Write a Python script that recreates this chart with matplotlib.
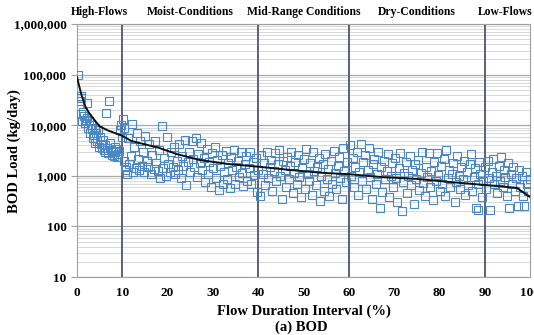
import matplotlib
matplotlib.use('Agg')
import matplotlib.pyplot as plt
from matplotlib.ticker import LogLocator, FuncFormatter, NullFormatter

# Load duration curve (kg/day)
curve_x = [0, 1, 2, 3, 5, 7, 10, 12, 15, 18, 22, 27, 33, 40, 47, 54, 60, 67, 75, 82, 90, 97, 100]
curve_y = [90000, 40000, 22000, 16000, 9500, 7800, 6200, 4900, 4200, 3600, 2700, 2070, 1730,
           1520, 1310, 1150, 1080, 950, 870, 760, 660, 580, 380]

# Observed loads (flow percentile, kg/day)
obs = [
    (0.3, 100000), (0.6, 30000), (0.8, 38000), (0.9, 35000), (1.0, 17000), (1.2, 12000), (1.4, 18000),
    (1.6, 15000), (1.8, 11000), (2.0, 13000), (2.2, 27000), (2.3, 14000), (2.5, 9000), (2.7, 12000),
    (2.9, 7000), (3.1, 10000), (3.3, 8500), (3.5, 5500), (3.7, 6500), (3.9, 9000), (4.1, 4500),
    (4.3, 7000), (4.5, 5000), (4.7, 8000), (4.9, 3800), (5.1, 6000), (5.3, 4200), (5.5, 3500),
    (5.7, 5200), (5.9, 3200), (6.1, 4000), (6.3, 3000), (6.5, 17500), (6.7, 3500), (6.9, 2800),
    (7.1, 30000), (7.3, 4500), (7.5, 3300), (7.7, 2600), (7.9, 3000), (8.1, 2500), (8.3, 3800),
    (8.5, 2900), (8.7, 3400), (8.9, 2400), (9.1, 2700), (9.3, 3100), (9.5, 8000), (9.7, 10000),
    (9.9, 6000), (10.1, 13500), (10.3, 9000), (10.5, 2000), (10.7, 1300), (10.9, 1500),
    (11.0, 1100), (11.3, 5500), (11.6, 1700), (11.9, 2500), (12.2, 10700), (12.4, 1200), (12.7, 3800),
    (13.0, 1400), (13.2, 7000), (13.5, 2200), (13.8, 1300), (14.0, 4800), (14.3, 1600), (14.6, 3000),
    (14.9, 1200), (15.1, 6200), (15.4, 2000), (15.7, 1500), (16.0, 4200), (16.3, 1100), (16.6, 2600),
    (16.9, 1350), (17.2, 5000), (17.5, 1800), (17.8, 1250), (18.1, 3300), (18.4, 900), (18.7, 9800),
    (19.0, 1450), (19.3, 2300), (19.6, 1000), (19.9, 5800), (20.2, 1700), (20.5, 1200), (20.8, 2900),
    (21.1, 1500), (21.4, 3800), (21.7, 1100),
    (22.0, 2000), (22.3, 1300), (22.6, 4200), (22.9, 900), (23.2, 2500), (23.5, 1600), (23.8, 5200),
    (24.1, 660), (24.4, 1900), (24.7, 3000), (25.0, 1200), (25.3, 4800), (25.6, 2200), (25.9, 1500),
    (26.2, 5500), (26.5, 950), (26.8, 2700), (27.1, 1800), (27.4, 4500), (27.7, 1300), (28.0, 2300),
    (28.3, 750), (28.6, 3400), (28.9, 1100), (29.2, 1900), (29.5, 600), (29.8, 2800), (30.1, 1400),
    (30.4, 3700), (30.7, 900), (31.0, 2100), (31.3, 520), (31.6, 1600), (31.9, 2600), (32.2, 700),
    (32.5, 1200), (32.8, 3100), (33.1, 850), (33.4, 1800), (33.7, 580), (34.0, 2400), (34.3, 1300),
    (34.6, 3300), (34.9, 680), (35.2, 1500), (35.5, 2000), (35.8, 950), (36.1, 2900), (36.4, 1150),
    (36.7, 620), (37.0, 1700), (37.3, 2500), (37.6, 800), (37.9, 1400), (38.2, 3000), (38.5, 700),
    (38.8, 1900), (39.1, 1050), (39.4, 2300), (39.7, 480), (40.0, 1300),
    (40.4, 400), (40.7, 2600), (41.0, 1100), (41.3, 1800), (41.6, 650), (41.9, 3000), (42.2, 900),
    (42.5, 1500), (42.8, 2100), (43.1, 500), (43.4, 1250), (43.7, 2800), (44.0, 780), (44.3, 1700),
    (44.6, 3300), (44.9, 1000), (45.2, 350), (45.5, 2000), (45.8, 1300), (46.1, 600), (46.4, 2400),
    (46.7, 850), (47.0, 1600), (47.3, 3000), (47.6, 450), (47.9, 1150), (48.2, 1900), (48.5, 700),
    (48.8, 2600), (49.1, 950), (49.4, 380), (49.7, 1400), (50.0, 2200), (50.3, 550), (50.6, 3400),
    (50.9, 1100), (51.2, 800), (51.5, 1800), (51.8, 420), (52.1, 2900), (52.4, 1250), (52.7, 650),
    (53.0, 1500), (53.3, 2300), (53.6, 320), (53.9, 1000), (54.2, 1700), (54.5, 500), (54.8, 2700),
    (55.1, 850), (55.4, 1350), (55.7, 400), (56.0, 2000), (56.3, 700), (56.6, 3100), (56.9, 1150),
    (57.2, 550), (57.5, 1600), (57.8, 2400), (58.1, 900), (58.4, 350), (58.7, 3600), (59.0, 1250),
    (59.3, 750), (59.6, 1900),
    (60.2, 4000), (60.5, 1000), (60.8, 2300), (61.1, 600), (61.4, 1500), (61.7, 2900), (62.0, 420),
    (62.3, 1200), (62.6, 4300), (62.9, 800), (63.2, 1900), (63.5, 2600), (63.8, 550), (64.1, 1300),
    (64.4, 3500), (64.7, 950), (65.0, 350), (65.3, 1700), (65.6, 2200), (65.9, 700), (66.2, 1100),
    (66.5, 3000), (66.8, 230), (67.1, 1500), (67.4, 480), (67.7, 2000), (68.0, 850), (68.3, 1250),
    (68.6, 2700), (68.9, 380), (69.2, 1000), (69.5, 1800), (69.8, 600), (70.1, 2300), (70.4, 900),
    (70.7, 300), (71.0, 1400), (71.3, 2800), (71.6, 200), (71.9, 750), (72.2, 1150), (72.5, 1900),
    (72.8, 450), (73.1, 1000), (73.4, 2500), (73.7, 650), (74.0, 1300), (74.3, 280), (74.6, 1700),
    (74.9, 850), (75.2, 2100), (75.5, 520), (75.8, 1150), (76.1, 3000), (76.4, 720), (76.7, 400),
    (77.0, 1500), (77.3, 950), (77.6, 2800), (77.9, 600), (78.2, 1250), (78.5, 330), (78.8, 1900),
    (79.1, 800), (79.4, 2800), (79.7, 1050), (80.0, 500), (80.3, 1600), (80.6, 700), (80.9, 2200),
    (81.2, 400), (81.5, 3300), (81.8, 900), (82.1, 1300), (82.4, 600), (82.7, 1100), (83.0, 1800),
    (83.3, 300), (83.6, 750), (83.9, 2500), (84.2, 1000), (84.5, 550), (84.8, 1500), (85.1, 850),
    (85.4, 2000), (85.7, 420), (86.0, 1200), (86.3, 650), (86.6, 1700), (86.9, 2700), (87.2, 500),
    (87.5, 950), (87.8, 1400), (88.1, 230), (88.4, 700), (88.5, 210), (88.7, 1900), (89.0, 1100),
    (89.3, 380), (89.6, 800),
    (90.0, 1500), (90.3, 550), (90.6, 2000), (90.9, 900), (91.2, 210), (91.5, 1200), (91.8, 2200),
    (92.1, 700), (92.4, 1000), (92.7, 450), (93.0, 1600), (93.3, 800), (93.6, 2400), (93.9, 600),
    (94.2, 1300), (94.5, 950), (94.8, 400), (95.1, 1800), (95.4, 230), (95.7, 1100), (96.0, 700),
    (96.3, 1500), (96.6, 500), (96.9, 900), (97.2, 250), (97.5, 1300), (97.8, 600), (98.1, 1000),
    (98.4, 400), (98.7, 250), (99.0, 1200), (99.3, 700), (99.6, 500), (99.9, 850),
]
obs_x = [p[0] for p in obs]
obs_y = [p[1] for p in obs]

zone_breaks = [10, 40, 60, 90]
zone_names = ['High-Flows', 'Moist-Conditions', 'Mid-Range Conditions', 'Dry-Conditions', 'Low-Flows']
zone_centers = [5, 25, 50, 75, 94.4]

plt.rcParams['font.family'] = 'Liberation Serif'
plt.rcParams['font.weight'] = 'bold'

fig = plt.figure(figsize=(5.34, 3.35), dpi=100)
ax = fig.add_axes([0.144, 0.173, 0.849, 0.755])

ax.plot(obs_x, obs_y, 's', mfc='none', mec='#4a87c4', ms=6, mew=0.8, zorder=3)
ax.plot(curve_x, curve_y, color='#111111', lw=1.4, zorder=4)
for b in zone_breaks:
    ax.axvline(b, color='#4e5478', lw=1.3, zorder=2)

ax.set_yscale('log')
ax.set_ylim(10, 1000000)
ax.set_xlim(0, 100)
ax.set_xticks(range(0, 101, 10))
ax.yaxis.set_major_locator(LogLocator(base=10, numticks=10))
ax.yaxis.set_minor_locator(LogLocator(base=10, subs=range(2, 10), numticks=20))
ax.yaxis.set_major_formatter(FuncFormatter(lambda v, p: '{:,.0f}'.format(v)))
ax.yaxis.set_minor_formatter(NullFormatter())
ax.grid(axis='y', which='major', color='#a8a8a8', lw=0.9, zorder=0)
ax.grid(axis='y', which='minor', color='#d8d8d8', lw=0.7, zorder=0)
ax.set_axisbelow(True)
for s in ax.spines.values():
    s.set_color('#a0a0a0')
ax.tick_params(axis='y', which='major', length=4, color='#a0a0a0', labelsize=9.5)
ax.tick_params(axis='x', which='major', length=0, pad=7, labelsize=9.5)
ax.tick_params(which='minor', length=0)

for c, name in zip(zone_centers, zone_names):
    ax.text(c, 1.025, name, transform=ax.get_xaxis_transform(), ha='center', va='bottom',
            fontsize=8.4, fontweight='bold')

ax.set_xlabel('Flow Duration Interval (%)', fontsize=10.5, fontweight='bold', labelpad=4)
fig.text(0.026, 0.55, 'BOD Load (kg/day)', rotation=90, ha='center', va='center',
         fontsize=10.5, fontweight='bold')
fig.text(0.565, 0.024, '(a) BOD', ha='center', va='center', fontsize=10.5, fontweight='bold')

fig.savefig('out.png', dpi=100)
